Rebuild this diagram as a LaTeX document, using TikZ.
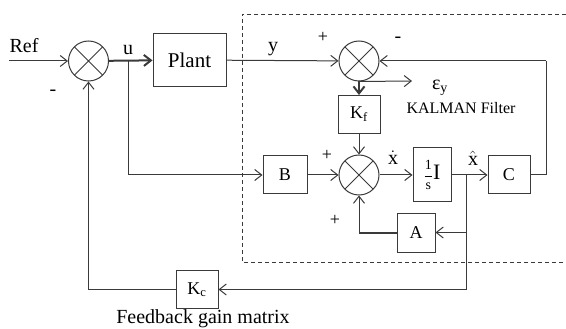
\documentclass[tikz,border=0pt]{standalone}
\usepackage{fontspec}
\setmainfont{Liberation Serif}
\usetikzlibrary{arrows.meta}

\definecolor{linec}{HTML}{3A3A3A}

\tikzset{
  blk/.style={draw=linec,line width=1pt,minimum width=42pt,minimum height=38pt,
    inner sep=0pt,font=\fontsize{18}{20}\selectfont},
  sumnode/.style={circle,draw=linec,line width=1pt,minimum size=40pt,inner sep=0pt,
    path picture={\draw[linec,line width=1pt]
      (path picture bounding box.north west)--(path picture bounding box.south east)
      (path picture bounding box.south west)--(path picture bounding box.north east);}},
  lbl/.style={font=\fontsize{20}{22}\selectfont,inner sep=0pt},
  sgn/.style={font=\fontsize{18}{20}\selectfont,inner sep=0pt},
  sig/.style={draw=linec,line width=1pt},
  thk/.style={draw=linec,line width=2pt},
}

\begin{document}
\begin{tikzpicture}[x=1pt,y=-1pt,>={Straight Barb[length=7pt,width=11pt]}]
    \useasboundingbox (0,0) rectangle (566,329);

    % estimator frame
    \draw[linec,line width=0.8pt,dash pattern=on 4pt off 3pt]
      (566,14)--(242,14)--(242,262)--(566,262);

    \node[sumnode] (s1) at (88.5,61) {};
    \node[blk,minimum width=73pt,minimum height=53pt,font=\fontsize{21}{23}\selectfont] (plant) at (189.5,60) {Plant};
    \node[sumnode] (s2) at (359,61) {};
    \node[blk] (kf) at (359,114.5) {K\textsubscript{f}};
    \node[sumnode] (s3) at (359,175) {};
    \node[blk,minimum width=44pt] (b) at (285,175) {B};
    \node[blk,minimum width=38pt,minimum height=54pt] (integ) at (432,175)
      {{\fontsize{14}{16}\selectfont$\displaystyle\frac{\hbox{1}}{\hbox{s}}$}\fontsize{22}{24}\selectfont I};
    \node[blk] (c) at (509,175) {C};
    \node[blk,minimum width=38pt,minimum height=39pt] (a) at (416,232.5) {A};
    \node[blk] (kc) at (197,289.5) {K\textsubscript{c}};

    \coordinate (refin) at (9,61);
    \coordinate (ub) at (128,61);
    \coordinate (eout) at (412,81);
    \coordinate (xbr) at (466,175);
    \coordinate (fbr) at (546,61);

    % main loop
    \draw[sig,->] (refin) -- (s1);
    \draw[thk,->] (s1) -- (plant);
    \draw[sig,->] (plant) -- (s2);
    \draw[thk,->] (s2) -- (kf);
    \draw[sig,->] (s2.south) -- (eout);
    \draw[sig,->] (kf) -- (s3);
    \draw[sig,->] (ub) |- (b);
    \draw[sig,->] (b) -- (s3);
    \draw[sig,->] (s3) -- (integ);
    \draw[sig] (integ) -- (xbr);
    \draw[sig,->] (xbr) -- (c);
    \draw[sig] (c) -| (fbr);
    \draw[sig,->] (fbr) -- (s2);
    \draw[sig,->] (xbr |- a) -- (a);
    \draw[thk] (a) -- (s3 |- a);
    \draw[sig,->] (s3 |- a) -- (s3);
    \draw[sig,->] (xbr) |- (kc);
    \draw[sig,->] (kc) -| (s1);

    % labels
    \node[lbl] (reflbl) at (24,46) {Ref};
    \node[lbl] (ulbl) at (128,50) {u};
    \node[lbl] (ylbl) at (273,49) {y};
    \node[lbl] (m1) at (53,93) {-};
    \node[sgn] (p2) at (323,37) {+};
    \node[lbl] (m2) at (398,40) {-};
    \node[lbl] (elbl) at (440,88) {ε\textsubscript{y}};
    \node[font=\fontsize{16}{18}\selectfont,inner sep=0pt] (kal) at (461,108) {KALMAN Filter};
    \node[sgn] (p3) at (327,155) {+};
    \node[sgn] (p4) at (335,220) {+};
    \node[lbl] (xdlbl) at (393,158) {$\dot{\mathrm{x}}$};
    \node[lbl] (xhlbl) at (473,158) {$\hat{\mathrm{x}}$};
    \node[lbl] (fblbl) at (203,319) {Feedback gain matrix};
\end{tikzpicture}
\end{document}
